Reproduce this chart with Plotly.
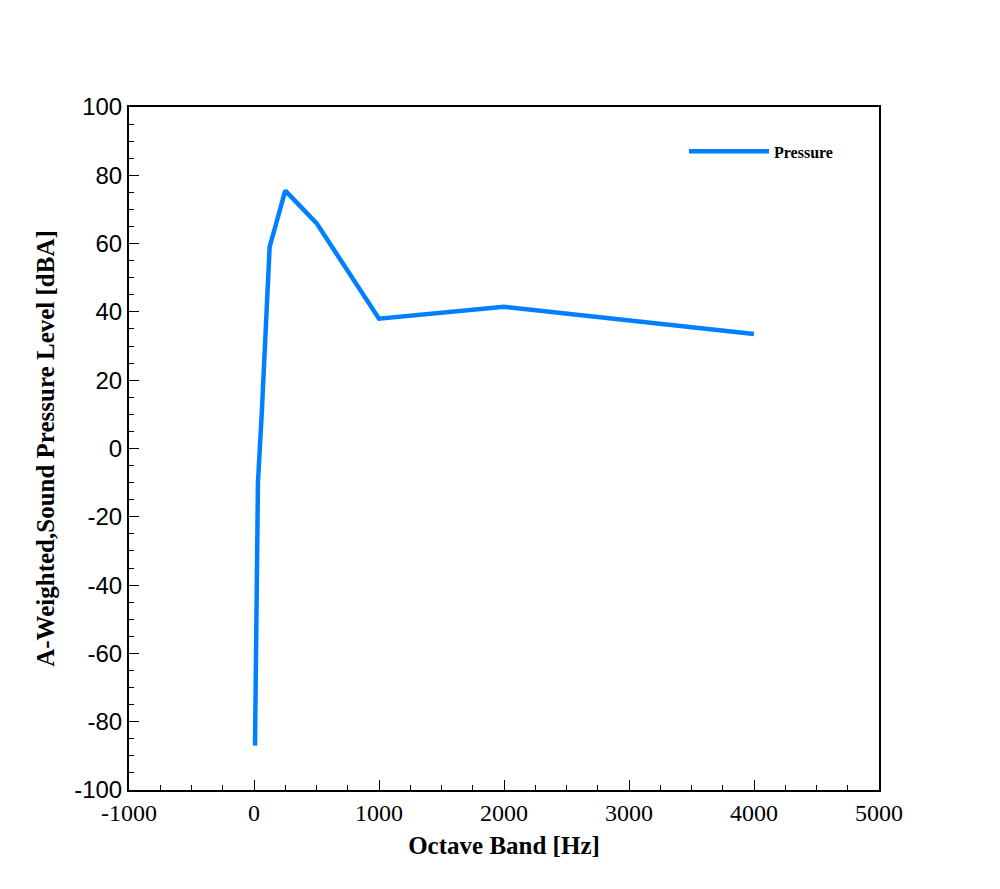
import plotly.graph_objects as go

freq = [8, 16, 31.5, 63, 125, 250, 500, 1000, 2000, 4000]
spl = [-87, -58, -10, 11, 59, 75.5, 66, 38, 41.5, 33.5]
x_ticks = [-1000, 0, 1000, 2000, 3000, 4000, 5000]
y_ticks = [-100, -80, -60, -40, -20, 0, 20, 40, 60, 80, 100]

fig = go.Figure()
fig.add_trace(go.Scatter(x=freq, y=spl, mode='lines', name='Pressure',
                         line=dict(color='#0080ff', width=4.5)))

axis_common = dict(showline=True, linecolor='black', linewidth=2, mirror=True,
                   ticks='inside', ticklen=10, tickwidth=1, tickcolor='black',
                   showgrid=False, zeroline=False,
                   minor=dict(ticks='inside', ticklen=5, tickcolor='black', tickwidth=1))

fig.update_layout(
    width=1000, height=889, paper_bgcolor='white', plot_bgcolor='white',
    margin=dict(l=121, r=129, t=99, b=107),
    xaxis=dict(range=[-1000, 5000], tickvals=x_ticks,
               ticktext=[str(v).replace('\u2212', '-') for v in x_ticks],
               tickfont=dict(family='Liberation Serif', size=24, color='black'),
               title=dict(text='<b>Octave Band [Hz]</b>', standoff=12,
                          font=dict(family='Liberation Serif', size=25, color='black')),
               **axis_common),
    yaxis=dict(range=[-100, 100], tickvals=y_ticks,
               ticktext=[str(v) for v in y_ticks],
               tickfont=dict(family='Liberation Sans', size=24, color='black'),
               title=dict(text='<b>A-Weighted,Sound Pressure Level [dBA]</b>', standoff=12,
                          font=dict(family='Liberation Serif', size=25, color='black')),
               **axis_common),
    legend=dict(x=0.74, y=0.935, xanchor='left', yanchor='middle', bgcolor='rgba(0,0,0,0)',
                font=dict(family='Liberation Serif', size=16, color='black'),
                itemwidth=80),
    showlegend=True,
)
fig.update_xaxes(minor=dict(dtick=250))
fig.update_yaxes(minor=dict(dtick=5))
fig.update_layout(legend_font_weight='bold')

fig.write_html("out.html")
